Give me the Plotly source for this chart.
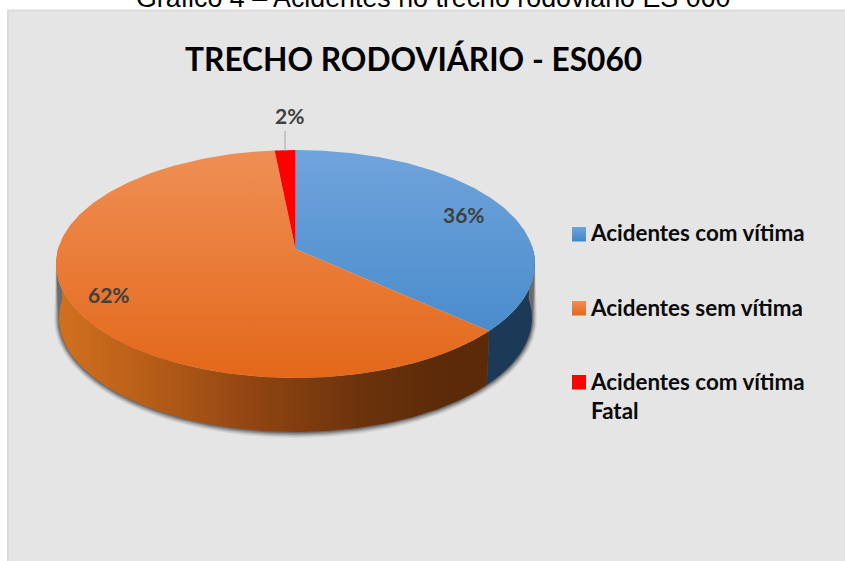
import numpy as np
import plotly.graph_objects as go

categories = ["Acidentes com vítima", "Acidentes sem vítima", "Acidentes com vítima<br>Fatal"]
shares = [36, 62, 2]
top_colors = [["#70a4dc", "#4086c8"], ["#ef8f55", "#e3681a"], ["#ff0000", "#ff0000"]]
rim_colors = ["#1c3a57", None, "#ff0000"]
chart_title = "TRECHO RODOVIÁRIO - ES060"
page_caption = "Gráfico 4 – Acidentes no trecho rodoviário ES 060"

FONT = "Lato"
W, H = 855, 571  # a little past the 845x561 window so the panel bleeds off the edges
CX, CY, RX, RY = 295.5, 264, 239.5, 114
DEPTH, RX_B = 54, 236.5


def warp(t):
    # tilted-view angle: matches how the perspective compresses slices
    r = np.radians(t)
    return t - 9.7 * np.sin(r) - 3.96 * np.sin(2 * r)


def top_xy(t):
    r = np.radians(warp(np.asarray(t, float)))
    return CX + RX * np.sin(r), CY - RY * np.cos(r)


def bot_xy(t, grow=0.0, dy=0.0):
    r = np.radians(warp(np.asarray(t, float)))
    return CX + (RX_B + grow) * np.sin(r), CY + DEPTH + dy - (RY + grow) * np.cos(r)


fig = go.Figure()


def poly(x, y, color=None, gradient=None):
    kw = dict(x=list(x), y=list(y), mode="lines", fill="toself", line=dict(width=0),
              hoverinfo="skip", showlegend=False)
    if gradient:
        kw["fillgradient"] = gradient
    else:
        kw["fillcolor"] = color
    fig.add_trace(go.Scatter(**kw))


def vgrad(c, y0, y1):
    return dict(type="vertical", colorscale=[[0, c[0]], [1, c[1]]], start=y0, stop=y1)


# cumulative slice angles, clockwise from the top
edges = np.concatenate([[0], np.cumsum(shares)]) / sum(shares) * 360

# soft shadow below the rim
for grow, alpha in [(5, 0.08), (4, 0.12), (3, 0.17), (2, 0.25), (1, 0.35)]:
    t = np.linspace(97, 263, 200)
    x, y = bot_xy(t, grow, grow * 0.2)
    tt, ty = top_xy(t[::-1])
    poly(np.r_[x, tt], np.r_[y, ty], f"rgba(50,50,50,{alpha})")

# rim: visible on the front half only
t = np.linspace(90, edges[1], 60)
xt, yt = top_xy(t)
xb, yb = bot_xy(t[::-1])
poly(np.r_[xt, xb], np.r_[yt, yb], rim_colors[0])

t = np.linspace(edges[1], 270, 200)
xt, yt = top_xy(t)
xb, yb = bot_xy(t[::-1])
poly(np.r_[xt, xb], np.r_[yt, yb], gradient=dict(
    type="horizontal", start=56, stop=490,
    colorscale=[[0, "#d2711f"], [0.2, "#b95f18"], [0.45, "#914512"],
                [0.7, "#6c330c"], [0.9, "#5b2a08"], [1, "#5b2a08"]]))

# top faces
for i in range(len(shares)):
    t = np.linspace(edges[i], edges[i + 1], 200)
    x, y = top_xy(t)
    poly(np.r_[CX, x, CX], np.r_[CY - 15, y, CY - 15],
         gradient=vgrad(top_colors[i], CY - RY, CY + RY))

# legend swatches
swatch_y = [227, 301, 375]
for c, y0 in zip(top_colors, swatch_y):
    poly([572, 586, 586, 572, 572], [y0, y0, y0 + 14.5, y0 + 14.5, y0], gradient=vgrad(c, y0, y0 + 14.5))

shapes = [
    dict(type="rect", x0=8, x1=W + 5, y0=10.5, y1=H + 5, xref="x", yref="y", layer="below",
         fillcolor="#e5e5e5", line=dict(color="#dcdcdc", width=2)),
    dict(type="line", x0=285, x1=285, y0=131, y1=151, xref="x", yref="y", layer="above",
         line=dict(color="#a6a6a6", width=1)),
]


def note(x, y, text, size, color, anchor="center", family=FONT, bold=True, yshift=0):
    fig.add_annotation(x=x, y=y, xref="x", yref="y", text=f"<b>{text}</b>" if bold else text,
                       showarrow=False, xanchor=anchor, yanchor="middle", align="left", yshift=yshift,
                       font=dict(family=family, size=size, color=color))


note(433, 0, page_caption, 26.8, "#000000", family="Liberation Sans", bold=False, yshift=2)
note(413, 59, chart_title, 31.7, "#000000")
for (x, y), v in zip([(464, 214.5), (109, 294.5), (289, 115)], shares):
    note(x, y, f"{v}%", 21, "#404040")
for (y, c) in zip([232, 307, 396], categories):
    note(588, y, c, 22.4, "#0a0a0a", anchor="left")

fig.update_layout(
    width=W, height=H, margin=dict(l=0, r=0, t=0, b=0), autosize=False,
    paper_bgcolor="#ffffff", plot_bgcolor="rgba(0,0,0,0)", shapes=shapes,
    xaxis=dict(range=[0, W], visible=False, fixedrange=True),
    yaxis=dict(range=[H, 0], visible=False, fixedrange=True),
)
fig.write_html("out.html", config={"displayModeBar": False},
               post_script="document.body.style.margin='0';document.documentElement.style.overflow='hidden';document.body.style.overflow='hidden';")
